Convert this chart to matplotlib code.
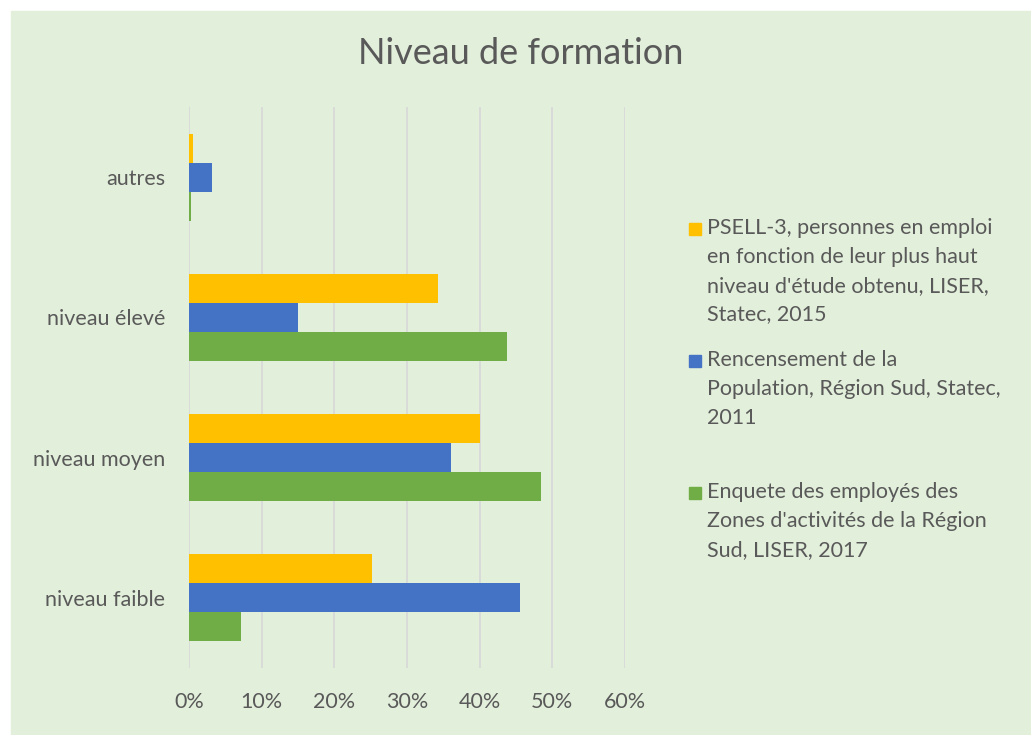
import matplotlib.pyplot as plt
from matplotlib.patches import Rectangle
from matplotlib.ticker import PercentFormatter

categories = ['niveau faible', 'niveau moyen', 'niveau élevé', 'autres']
psell = [25.2, 40.0, 34.2, 0.6]
recensement = [45.5, 36.0, 15.0, 3.2]
enquete = [7.1, 48.5, 43.8, 0.3]

labels = [
    "PSELL-3, personnes en emploi\nen fonction de leur plus haut\nniveau d'étude obtenu, LISER,\nStatec, 2015",
    "Rencensement de la\nPopulation, Région Sud, Statec,\n2011",
    "Enquete des employés des\nZones d'activités de la Région\nSud, LISER, 2017",
]
colors = ['#FFC000', '#4472C4', '#70AD47']

W, H = 1031, 735
txt = '#595959'
plt.rcParams['font.family'] = ['Lato', 'DejaVu Sans']

fig = plt.figure(figsize=(W / 100, H / 100), dpi=100)
fig.patches.append(Rectangle((11 / W, 0), 1 - 11 / W, 1 - 11 / H,
                             transform=fig.transFigure, color='#E2EFDA', zorder=-5))

ax = fig.add_axes([189 / W, 1 - 668 / H, (625 - 189) / W, (668 - 107) / H])
ax.set_facecolor('none')

h = 0.207
y = range(len(categories))
ax.barh([i + h for i in y], psell, height=h, color=colors[0])
ax.barh(list(y), recensement, height=h, color=colors[1])
ax.barh([i - h for i in y], enquete, height=h, color=colors[2])

ax.set_xlim(0, 60)
ax.set_ylim(-0.5, 3.5)
ax.set_xticks(range(0, 61, 10))
ax.xaxis.set_major_formatter(PercentFormatter(decimals=0))
ax.set_yticks(list(y))
ax.set_yticklabels(categories)
ax.tick_params(length=0, labelsize=15.5, colors=txt)
ax.tick_params(axis='y', pad=17)
ax.tick_params(axis='x', pad=17)
ax.grid(axis='x', color='#D9D9D9', linewidth=1.3)
ax.set_axisbelow(True)
for s in ax.spines.values():
    s.set_visible(False)

fig.text(521 / W, 1 - 53 / H, 'Niveau de formation', ha='center', va='center',
         fontsize=26, color=txt)

# legend
first_lines = [229, 361, 493]
for lab, col, yy in zip(labels, colors, first_lines):
    fig.patches.append(Rectangle((689 / W, 1 - (yy + 6) / H), 12 / W, 12 / H,
                                 transform=fig.transFigure, color=col))
    fig.text(707 / W, 1 - (yy - 11) / H, lab, ha='left', va='top', fontsize=15.5,
             color=txt, linespacing=1.55)

fig.savefig('out.png', dpi=100)
